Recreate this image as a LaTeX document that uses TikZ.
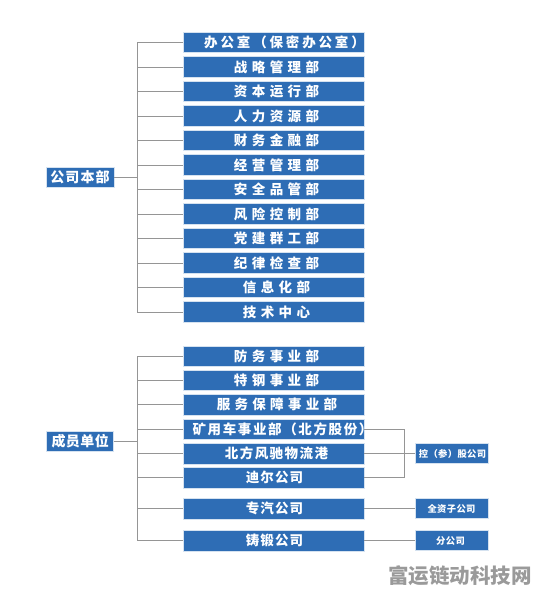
\documentclass[tikz,border=0pt]{standalone}
\usepackage{fontspec}
\newfontfamily\cjk{Noto Sans CJK SC}
% #1 horizontal shift of the text, #2 letter spacing, #3 text
\newcommand\tx[3]{\makebox[0pt][c]{\hspace*{#1}{\addfontfeature{LetterSpace=#2}#3}\hspace*{-#1}}}
\definecolor{boxblue}{HTML}{2E6DB5}
\definecolor{linegray}{HTML}{959595}
\definecolor{wmgray}{HTML}{9A9A9A}
\tikzset{
  x=1pt, y=-1pt,
  box/.style={draw=white!80!boxblue, line width=0.6pt, fill=boxblue, text=white, inner sep=0pt,
    minimum height=20.5pt, font=\cjk\bfseries\fontsize{13.5}{14}\selectfont},
  topbox/.style={box, minimum width=181pt},
  rootbox/.style={box, minimum height=20.5pt, font=\cjk\bfseries\fontsize{14}{15}\selectfont},
  smallbox/.style={box, minimum width=73pt, minimum height=20pt, font=\cjk\bfseries\fontsize{9.3}{10}\selectfont},
  conn/.style={draw=linegray, line width=0.9pt},
}
\begin{document}
\begin{tikzpicture}
\useasboundingbox (0,0) rectangle (538,596);
% headquarters group
\node[rootbox, minimum width=68pt] (hq) at (80,177.5) {\tx{0pt}{8}{公司本部}};
\node[topbox] (t1) at (273.5,42.5) {\tx{11pt}{21}{办公室（保密办公室）}};
\node[topbox] (t2) at (273.5,67) {\tx{3pt}{33}{战略管理部}};
\node[topbox] (t3) at (273.5,91.5) {\tx{3pt}{33}{资本运行部}};
\node[topbox] (t4) at (273.5,116) {\tx{3pt}{33}{人力资源部}};
\node[topbox] (t5) at (273.5,140.5) {\tx{3pt}{33}{财务金融部}};
\node[topbox] (t6) at (273.5,165) {\tx{3pt}{33}{经营管理部}};
\node[topbox] (t7) at (273.5,189.5) {\tx{3pt}{33}{安全品管部}};
\node[topbox] (t8) at (273.5,214) {\tx{3pt}{33}{风险控制部}};
\node[topbox] (t9) at (273.5,238.5) {\tx{3pt}{33}{党建群工部}};
\node[topbox] (t10) at (273.5,263) {\tx{3pt}{33}{纪律检查部}};
\node[topbox] (t11) at (273.5,287.5) {\tx{3pt}{33}{信息化部}};
\node[topbox] (t12) at (273.5,312) {\tx{3pt}{33}{技术中心}};
\coordinate (jt) at (137.3,177.5);
\draw[conn] (hq.east) -- (jt);
\draw[conn] (jt |- t1.west) -- (jt |- t12.west);
\foreach \i in {1,...,12} { \draw[conn] (jt |- t\i.west) -- (t\i.west); }
% member units group
\node[rootbox, minimum width=67pt] (mu) at (79.7,441.5) {\tx{0.5pt}{3}{成员单位}};
\node[topbox] (b1) at (273.5,356.2) {\tx{3pt}{33}{防务事业部}};
\node[topbox] (b2) at (273.5,380.5) {\tx{3pt}{33}{特钢事业部}};
\node[topbox] (b3) at (273.5,404.8) {\tx{3.5pt}{32}{服务保障事业部}};
\node[topbox] (b4) at (273.5,429.5) {\tx{9pt}{12}{矿用车事业部（北方股份）}};
\node[topbox] (b5) at (273.5,453.7) {\tx{3pt}{11}{北方风驰物流港}};
\node[topbox] (b6) at (273.5,477.8) {\tx{1pt}{8}{迪尔公司}};
\node[topbox] (b7) at (273.5,508.6) {\tx{1pt}{8}{专汽公司}};
\node[topbox] (b8) at (273.5,540.6) {\tx{1pt}{8}{铸锻公司}};
\coordinate (jm) at (137.3,441.5);
\draw[conn] (mu.east) -- (jm);
\draw[conn] (jm |- b1.west) -- (jm |- b8.west);
\foreach \i in {1,...,8} { \draw[conn] (jm |- b\i.west) -- (b\i.west); }
% right side
\node[smallbox] (kg) at (451.5,453.7) {\tx{1pt}{4}{控（参）股公司}};
\node[smallbox] (qz) at (451.5,508.6) {\tx{0pt}{4}{全资子公司}};
\node[smallbox] (fg) at (451.5,540.6) {\tx{-1pt}{4}{分公司}};
\coordinate (jr) at (404,453.7);
\draw[conn] (b4.east) -- (jr |- b4.east) -- (jr |- b6.east) -- (b6.east);
\draw[conn] (b5.east) -- (kg.west);
\draw[conn] (b7.east) -- (qz.west);
\draw[conn] (b8.east) -- (fg.west);
% watermark
\node[text=wmgray, font=\cjk\bfseries\fontsize{20.5}{22}\selectfont, inner sep=0pt] (wm) at (460,576) {富运链动科技网};
\end{tikzpicture}
\end{document}
